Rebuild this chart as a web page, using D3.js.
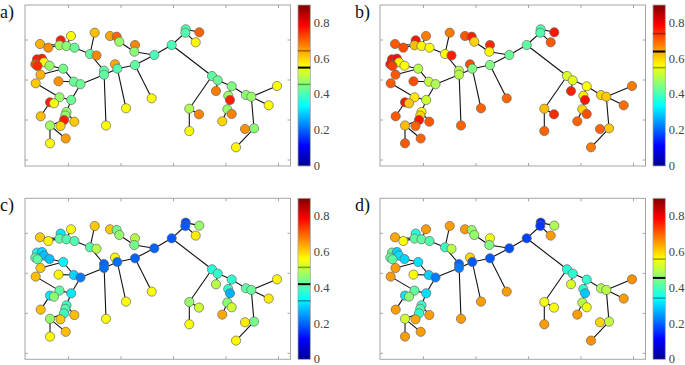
<!DOCTYPE html>
<html>
<head>
<meta charset="utf-8">
<script src="https://cdn.jsdelivr.net/npm/d3@7"></script>
<style>
  html, body { margin: 0; padding: 0; background: #fff; }
  svg { display: block; }
</style>
</head>
<body>
<div id="chart"></div>
<script>
// node layout (same tree in every panel), units of the plot box
const nodeX = [15, 23.3, 35.7, 34.5, 41.5, 46, 49.5, 69.7, 65, 71.5,
  79, 79, 81, 85, 91.7, 94.3, 110, 109.3, 129.3, 90,
  92.3, 110, 101, 126.7, 146.7, 160.7, 160.3, 174.3, 170.7, 187,
  192.7, 191, 164.3, 164.3, 174, 206.7, 203.3, 205, 202.3, 206.7,
  197.3, 221, 226.3, 252, 243.7, 229, 220, 211, 12, 17,
  19, 10.3, 12.5, 24.5, 38.2, 15.5, 33.5, 10.7, 48.8, 55.5,
  34.5, 25, 29, 46.2, 41.5, 40.3, 39, 35.5, 49.3, 15.7,
  25, 25, 40.7]
const nodeY = [39, 42.7, 35.3, 40.3, 41, 31, 42.7, 27.7, 49, 50.5,
  65.7, 69.7, 120.5, 31, 31.7, 36.7, 40, 46.7, 50, 59.3,
  63.7, 60, 103.3, 93.3, 40, 24.3, 27.7, 27.3, 37.3, 71,
  75.3, 86, 103.7, 126, 109.3, 81.3, 90.7, 95, 104.3, 109,
  116.3, 90, 91.7, 81, 100.3, 123.3, 124, 142.3, 54.3, 53.7,
  57.3, 59.3, 61, 60.7, 63.7, 69.7, 76.3, 78.3, 76.7, 79.2,
  92.3, 97.3, 98.3, 95, 107, 110.5, 115, 121, 116.7, 111.3,
  120.5, 138.3, 133.5]

// edges, 1-based node ids
const edges = [
  [60, 12], [12, 11], [12, 21], [21, 22], [22, 19], [19, 25], [25, 30], [30, 31],
  [31, 36], [36, 42], [42, 43], [43, 44], [43, 45], [43, 46], [46, 47], [46, 48],
  [36, 37], [37, 38], [38, 39], [39, 40], [39, 41], [31, 32], [30, 33], [33, 34],
  [33, 35], [25, 27], [27, 26], [26, 28], [27, 29], [19, 18], [18, 17], [18, 16],
  [16, 15], [15, 14], [22, 24], [21, 20], [21, 23], [11, 13], [11, 9], [9, 8],
  [9, 10], [9, 7], [7, 5], [5, 4], [4, 3], [4, 1], [4, 2], [5, 6],
  [60, 59], [59, 55], [55, 54], [54, 51], [51, 50], [51, 49], [49, 52], [52, 53],
  [55, 56], [59, 57], [60, 64], [64, 61], [61, 58], [61, 62], [62, 63], [62, 70],
  [64, 65], [65, 66], [66, 67], [67, 68], [65, 69], [67, 71], [71, 72], [71, 73]
]

// node values per panel
const valuesA = [0.63, 0.66, 0.76, 0.48, 0.46, 0.56, 0.43, 0.62, 0.42, 0.67,
  0.42, 0.42, 0.56, 0.64, 0.7, 0.47, 0.67, 0.46, 0.4, 0.64,
  0.41, 0.42, 0.56, 0.56, 0.4, 0.41, 0.41, 0.7, 0.57, 0.42,
  0.43, 0.68, 0.49, 0.56, 0.67, 0.45, 0.47, 0.76, 0.47, 0.67,
  0.6, 0.46, 0.47, 0.56, 0.56, 0.46, 0.66, 0.57, 0.76, 0.76,
  0.56, 0.72, 0.75, 0.47, 0.44, 0.63, 0.66, 0.61, 0.43, 0.43,
  0.47, 0.76, 0.55, 0.43, 0.47, 0.47, 0.76, 0.6, 0.61, 0.62,
  0.48, 0.56, 0.65]
const valuesB = [0.71, 0.72, 0.77, 0.62, 0.57, 0.68, 0.56, 0.68, 0.56, 0.76,
  0.5, 0.5, 0.7, 0.71, 0.76, 0.6, 0.75, 0.57, 0.43, 0.72,
  0.45, 0.45, 0.7, 0.7, 0.42, 0.41, 0.41, 0.77, 0.71, 0.53,
  0.54, 0.76, 0.62, 0.7, 0.75, 0.56, 0.58, 0.77, 0.6, 0.72,
  0.7, 0.6, 0.61, 0.68, 0.69, 0.61, 0.7, 0.68, 0.77, 0.78,
  0.57, 0.77, 0.73, 0.56, 0.5, 0.71, 0.72, 0.71, 0.51, 0.49,
  0.58, 0.77, 0.61, 0.52, 0.57, 0.6, 0.77, 0.7, 0.71, 0.71,
  0.62, 0.71, 0.7]
const valuesC = [0.61, 0.57, 0.32, 0.42, 0.41, 0.56, 0.41, 0.61, 0.41, 0.5,
  0.2, 0.21, 0.56, 0.61, 0.44, 0.47, 0.5, 0.44, 0.2, 0.57,
  0.21, 0.2, 0.56, 0.56, 0.19, 0.18, 0.19, 0.47, 0.58, 0.37,
  0.38, 0.5, 0.47, 0.56, 0.52, 0.38, 0.38, 0.27, 0.46, 0.52,
  0.64, 0.42, 0.43, 0.57, 0.58, 0.44, 0.58, 0.57, 0.36, 0.3,
  0.28, 0.41, 0.42, 0.28, 0.33, 0.61, 0.57, 0.62, 0.3, 0.22,
  0.42, 0.32, 0.46, 0.32, 0.39, 0.41, 0.39, 0.61, 0.62, 0.62,
  0.47, 0.56, 0.62]
const valuesD = [0.64, 0.56, 0.37, 0.42, 0.42, 0.65, 0.41, 0.65, 0.39, 0.5,
  0.2, 0.22, 0.65, 0.65, 0.47, 0.47, 0.55, 0.45, 0.18, 0.6,
  0.19, 0.19, 0.65, 0.65, 0.17, 0.15, 0.16, 0.49, 0.65, 0.37,
  0.38, 0.53, 0.55, 0.65, 0.56, 0.38, 0.38, 0.29, 0.5, 0.55,
  0.65, 0.49, 0.5, 0.66, 0.65, 0.51, 0.6, 0.66, 0.42, 0.3,
  0.31, 0.43, 0.42, 0.3, 0.31, 0.65, 0.56, 0.65, 0.3, 0.22,
  0.42, 0.32, 0.46, 0.31, 0.38, 0.41, 0.38, 0.64, 0.65, 0.65,
  0.52, 0.65, 0.65]

// colorbar markers: mean - std, mean, mean + std
const statsA = [0.456, 0.55, 0.644]
const statsB = [0.55, 0.64, 0.74]
const statsC = [0.327, 0.42, 0.514]
const statsD = [0.342, 0.455, 0.56]

const colorbarTicks = [0, 0.2, 0.4, 0.6, 0.8]
const xTicks = [43.5, 96, 148.5, 201, 253.5]
const yTicks = [35, 75, 115, 155]
const panelLabels = ['a)', 'b)', 'c)', 'd)']

const serif = "'Liberation Serif', 'Times New Roman', 'DejaVu Serif', serif"

// jet colormap over [0, 0.9]
const cMax = 0.9
const jetStops = [0, 0.125, 0.375, 0.625, 0.875, 1]
const jet = d3.scaleLinear()
  .domain(jetStops.map(t => t * cMax))
  .range(['#000090', '#0000ff', '#00ffff', '#ffff00', '#ff0000', '#800000'])
  .clamp(true)

class GraphPanel {
  constructor (options) {
    this.svg = options.svg
    this.values = options.values
    this.stats = options.stats
    this.label = options.label
    this.config = {
      left: options.left,
      top: options.top,
      width: 265.5,
      height: 161,
      radius: 4.6,
      cbGap: 7.5,
      cbWidth: 12.3,
      tickLen: 3
    }
    this.x = d3.scaleLinear().domain([0, 265.5]).range([this.config.left, this.config.left + this.config.width])
    this.y = d3.scaleLinear().domain([0, 161]).range([this.config.top, this.config.top + this.config.height])
    this.draw()
  }

  draw () {
    const c = this.config
    const g = this.svg.append('g')

    // axes box
    g.append('rect')
      .attr('x', c.left).attr('y', c.top)
      .attr('width', c.width).attr('height', c.height)
      .attr('fill', 'none').attr('stroke', '#a6a6a6').attr('stroke-width', 1)

    // inward ticks on all four sides
    const ticks = g.append('g').attr('stroke', '#a6a6a6').attr('stroke-width', 1)
    xTicks.forEach(t => {
      const px = this.x(t)
      ticks.append('line').attr('x1', px).attr('x2', px).attr('y1', c.top + c.height).attr('y2', c.top + c.height - c.tickLen)
      ticks.append('line').attr('x1', px).attr('x2', px).attr('y1', c.top).attr('y2', c.top + c.tickLen)
    })
    yTicks.forEach(t => {
      const py = this.y(t)
      ticks.append('line').attr('x1', c.left).attr('x2', c.left + c.tickLen).attr('y1', py).attr('y2', py)
      ticks.append('line').attr('x1', c.left + c.width).attr('x2', c.left + c.width - c.tickLen).attr('y1', py).attr('y2', py)
    })

    // edges
    g.append('g')
      .selectAll('line')
      .data(edges)
      .join('line')
      .attr('x1', d => this.x(nodeX[d[0] - 1]))
      .attr('y1', d => this.y(nodeY[d[0] - 1]))
      .attr('x2', d => this.x(nodeX[d[1] - 1]))
      .attr('y2', d => this.y(nodeY[d[1] - 1]))
      .attr('stroke', '#111')
      .attr('stroke-width', 1.1)

    // nodes
    g.append('g')
      .selectAll('circle')
      .data(this.values)
      .join('circle')
      .attr('cx', (d, i) => this.x(nodeX[i]))
      .attr('cy', (d, i) => this.y(nodeY[i]))
      .attr('r', c.radius)
      .attr('fill', d => jet(d))
      .attr('stroke', '#666')
      .attr('stroke-width', 0.7)

    // panel label
    g.append('text')
      .attr('x', c.left - 25)
      .attr('y', c.top + 13)
      .attr('font-family', serif)
      .attr('font-size', 18)
      .attr('fill', '#111')
      .text(this.label)

    this.drawColorbar(g)
  }

  drawColorbar (g) {
    const c = this.config
    const cbX = c.left + c.width + c.cbGap
    const cy = d3.scaleLinear().domain([0, cMax]).range([c.top + c.height, c.top])

    const id = 'jet' + this.label[0]
    const grad = this.svg.append('defs').append('linearGradient')
      .attr('id', id)
      .attr('x1', 0).attr('y1', 1).attr('x2', 0).attr('y2', 0)
    jetStops.forEach(t => {
      grad.append('stop').attr('offset', t).attr('stop-color', jet(t * cMax))
    })

    g.append('rect')
      .attr('x', cbX).attr('y', cy(cMax))
      .attr('width', c.cbWidth).attr('height', cy(0) - cy(cMax))
      .attr('fill', `url(#${id})`)
      .attr('stroke', '#a6a6a6').attr('stroke-width', 0.8)

    // mean and +/- std markers
    g.append('g')
      .selectAll('line')
      .data(this.stats)
      .join('line')
      .attr('x1', cbX).attr('x2', cbX + c.cbWidth)
      .attr('y1', d => cy(d)).attr('y2', d => cy(d))
      .attr('stroke', (d, i) => i === 1 ? '#000' : d3.color(jet(d)).darker(1.3))
      .attr('stroke-width', (d, i) => i === 1 ? 2 : 1.6)

    g.append('g')
      .selectAll('text')
      .data(colorbarTicks)
      .join('text')
      .attr('x', cbX + c.cbWidth + 3.5)
      .attr('y', d => cy(d) + 4)
      .attr('font-family', serif)
      .attr('font-size', 12.5)
      .attr('fill', '#444')
      .text(d => d === 0 ? '0' : d3.format('.1f')(d))
  }
}

const svg = d3.select('#chart').append('svg')
  .attr('width', 685)
  .attr('height', 365)

const panels = [
  { left: 25, top: 5, values: valuesA, stats: statsA },
  { left: 380, top: 5, values: valuesB, stats: statsB },
  { left: 25, top: 198.3, values: valuesC, stats: statsC },
  { left: 380, top: 198.3, values: valuesD, stats: statsD }
]
panels.forEach((p, i) => {
  new GraphPanel({ svg, label: panelLabels[i], ...p })
})
</script>
</body>
</html>
